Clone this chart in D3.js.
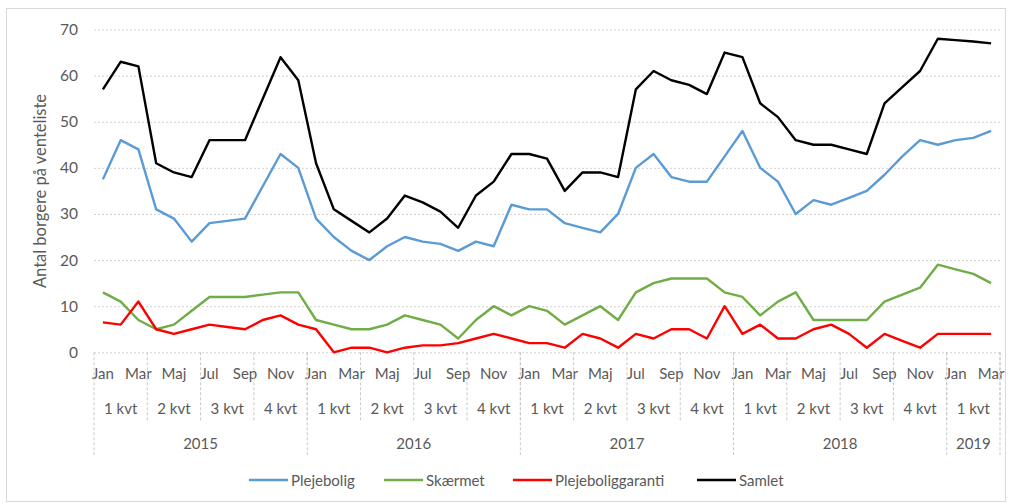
<!DOCTYPE html>
<html><head><meta charset="utf-8">
<script src="https://cdn.jsdelivr.net/npm/d3@7"></script>
<style>
html,body{margin:0;padding:0;background:#fff;}
svg text{font-family:Lato,"Open Sans",sans-serif;fill:#595959;}
</style></head>
<body>
<svg id="chart" width="1013" height="504"></svg>
<script>
const monthNames = ["Jan","Feb","Mar","Apr","Maj","Jun","Jul","Aug","Sep","Okt","Nov","Dec"];
const quarterNames = ["1 kvt","2 kvt","3 kvt","4 kvt"];
const years = ["2015","2016","2017","2018","2019"];
const monthsPerYear = [12,12,12,12,3];
const yTicks = [0,10,20,30,40,50,60,70];

const plejebolig = [37.5,46,44,31,29,24,28,28.5,29,36,43,40,
  29,25,22,20,23,25,24,23.5,22,24,23,32,
  31,31,28,27,26,30,40,43,38,37,37,42.5,
  48,40,37,30,33,32,33.5,35,38.5,42.5,46,45,
  46,46.5,48];
const skaermet = [13,11,7,5,6,9,12,12,12,12.5,13,13,
  7,6,5,5,6,8,7,6,3,7,10,8,
  10,9,6,8,10,7,13,15,16,16,16,13,
  12,8,11,13,7,7,7,7,11,12.5,14,19,
  18,17,15];
const garanti = [6.5,6,11,5,4,5,6,5.5,5,7,8,6,
  5,0,1,1,0,1,1.5,1.5,2,3,4,3,
  2,2,1,4,3,1,4,3,5,5,3,10,
  4,6,3,3,5,6,4,1,4,2.5,1,4,
  4,4,4];
const samlet = [57,63,62,41,39,38,46,46,46,55,64,59,
  41,31,28.5,26,29,34,32.5,30.5,27,34,37,43,
  43,42,35,39,39,38,57,61,59,58,56,65,
  64,54,51,46,45,45,44,43,54,57.5,61,68,
  67.7,67.4,67];

const seriesNames = ["Plejebolig","Skærmet","Plejeboliggaranti","Samlet"];
const seriesColors = ["#5B9BD5","#70AD47","#FF0000","#000000"];
const seriesData = [plejebolig, skaermet, garanti, samlet];

// build category list
const cats = [];
years.forEach((yr,yi)=>{
  for(let m=0;m<monthsPerYear[yi];m++){
    cats.push({key:yr+"-"+m, year:yr, yi:yi, month:monthNames[m], m:m, q:Math.floor(m/3)});
  }
});

const svg = d3.select("#chart");
const pLeft=94, pRight=1000, pTop=29.5, pBottom=352.3;

// outer frame
svg.append("rect").attr("x",6.5).attr("y",8.5).attr("width",999).attr("height",493)
  .attr("fill","none").attr("stroke","#d9d9d9").attr("stroke-width",1);

const x = d3.scaleBand().domain(cats.map(c=>c.key)).range([pLeft,pRight]).padding(0);
const y = d3.scaleLinear().domain([0,70]).range([pBottom,pTop]);
const cx = k => x(k)+x.bandwidth()/2;

// gridlines
const yAxis = d3.axisLeft(y).tickValues(yTicks).tickSize(-(pRight-pLeft)).tickPadding(16);
const gy = svg.append("g").attr("transform",`translate(${pLeft},0)`).call(yAxis);
gy.select(".domain").remove();
gy.selectAll(".tick line").attr("stroke","#d0d0d0").attr("stroke-dasharray","2,2");
gy.selectAll(".tick text").style("font-size","15.5px").attr("fill","#595959");

// y title
svg.append("text").attr("transform","translate(46,191) rotate(-90)")
  .attr("text-anchor","middle").style("font-size","16.5px").text("Antal borgere på venteliste");

// lines
const line = d3.line().x((d,i)=>cx(cats[i].key)).y(d=>y(d));
seriesData.forEach((s,si)=>{
  svg.append("path").datum(s).attr("d",line).attr("fill","none")
    .attr("stroke",seriesColors[si]).attr("stroke-width",2.4).attr("stroke-linejoin","round");
});

// multi-level x axis
const xAxis = d3.axisBottom(x).tickSize(0).tickPadding(16)
  .tickFormat((k,i)=> i%2===0 ? cats[i].month : "");
const gx = svg.append("g").attr("transform",`translate(0,${pBottom})`).call(xAxis);
gx.select(".domain").remove();
gx.selectAll(".tick text").style("font-size","15px").attr("fill","#595959");

const sepColor = "#c8c8c8";
// quarter groups
const quarters = d3.groups(cats, c=>c.year+"-"+c.q).map(([k,v])=>({k, first:v[0], last:v[v.length-1], q:v[0].q}));
quarters.forEach(g=>{
  const x0 = x(g.first.key), x1 = x(g.last.key)+x.bandwidth();
  svg.append("text").attr("x",(x0+x1)/2).attr("y",414).attr("text-anchor","middle")
    .style("font-size","15px").text(quarterNames[g.q]);
  svg.append("line").attr("x1",x1).attr("x2",x1).attr("y1",pBottom).attr("y2",422)
    .attr("stroke",sepColor).attr("stroke-dasharray","3,2");
});
// year groups
const yearGroups = d3.groups(cats, c=>c.year).map(([k,v])=>({k, first:v[0], last:v[v.length-1]}));
yearGroups.forEach((g,gi)=>{
  const x0 = x(g.first.key), x1 = x(g.last.key)+x.bandwidth();
  svg.append("text").attr("x",(x0+x1)/2).attr("y",449).attr("text-anchor","middle")
    .style("font-size","15px").text(g.k);
  svg.append("line").attr("x1",x1).attr("x2",x1).attr("y1",pBottom).attr("y2",455)
    .attr("stroke",sepColor).attr("stroke-dasharray","3,2");
  if(gi===0){
    svg.append("line").attr("x1",x0).attr("x2",x0).attr("y1",pBottom).attr("y2",455)
      .attr("stroke",sepColor).attr("stroke-dasharray","3,2");
  }
});

// legend
const legendX = [249,384,513,697];
seriesNames.forEach((n,i)=>{
  const g = svg.append("g").attr("transform",`translate(${legendX[i]},480)`);
  g.append("line").attr("x1",0).attr("x2",39).attr("y1",0).attr("y2",0)
    .attr("stroke",seriesColors[i]).attr("stroke-width",2.4);
  g.append("text").attr("x",42).attr("y",5.5).style("font-size","15px").text(n);
});
</script>
</body></html>
